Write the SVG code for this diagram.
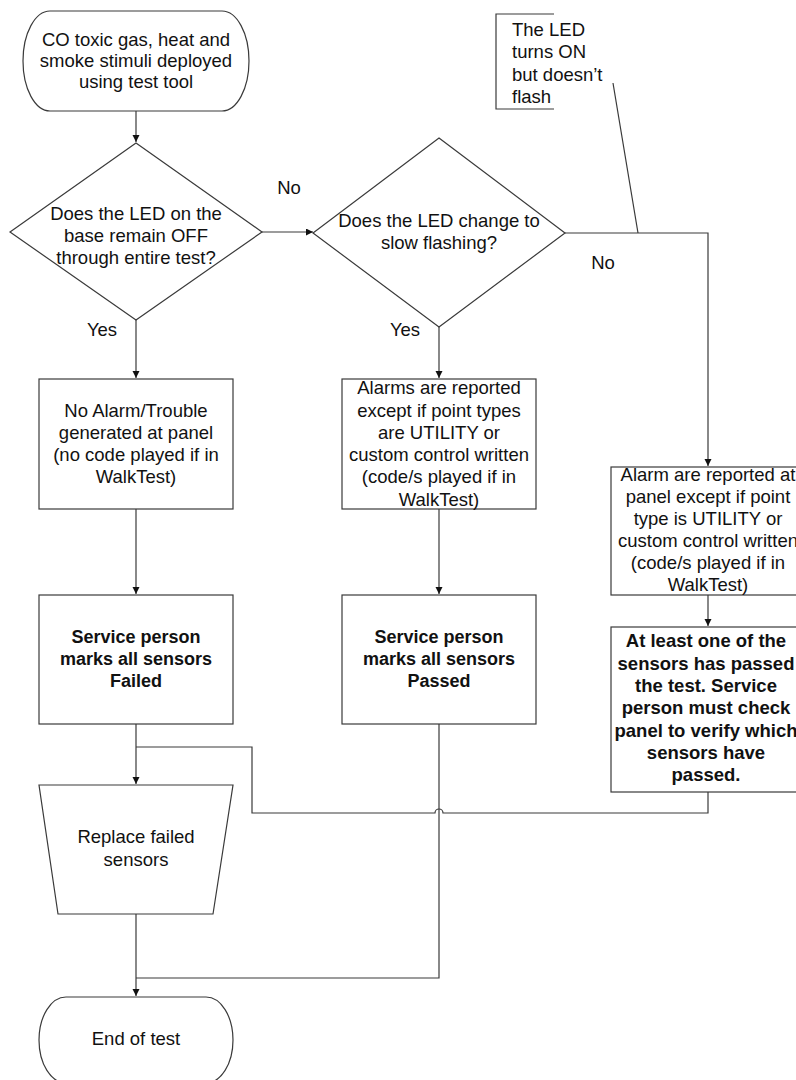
<svg xmlns="http://www.w3.org/2000/svg" width="796" height="1080" viewBox="0 0 796 1080">
<style>
.s{fill:#fff;stroke:#3a3a3a;stroke-width:1.2}
.t{font-family:"Liberation Sans",Arial,sans-serif;font-size:18.5px;fill:#111;text-anchor:middle}
.b{font-weight:bold;font-size:18px}
.l{text-anchor:start}
.c{fill:none;stroke:#3a3a3a;stroke-width:1.2}
</style>
<defs>
<marker id="ar" markerUnits="userSpaceOnUse" markerWidth="8" markerHeight="8" refX="7" refY="3.5" orient="auto">
<path d="M0,0 L7,3.5 L0,7 Z" fill="#111"/>
</marker>
</defs>
<rect width="796" height="1080" fill="#fff"/>
<g id="connectors">
<path class="c" d="M136,111 V142" marker-end="url(#ar)"/>
<path class="c" d="M262,232 H313" marker-end="url(#ar)"/>
<path class="c" d="M136,320 V378" marker-end="url(#ar)"/>
<path class="c" d="M439,327 V378" marker-end="url(#ar)"/>
<path class="c" d="M565,233 H708 V466" marker-end="url(#ar)"/>
<path class="c" d="M136,509 V594" marker-end="url(#ar)"/>
<path class="c" d="M439,509 V594" marker-end="url(#ar)"/>
<path class="c" d="M708,595 V626" marker-end="url(#ar)"/>
<path class="c" d="M136,724 V784" marker-end="url(#ar)"/>
<path class="c" d="M708,792 V813 H443 A4,4 0 0 0 435,813 H252 V747 H136"/>
<path class="c" d="M439,724 V978 H136"/>
<path class="c" d="M136,914 V996" marker-end="url(#ar)"/>
<path class="c" d="M613,83 L638,233"/>
</g>
<g id="start">
<path class="s" d="M50,11 H222 A27,50 0 0 1 222,111 H50 A27,50 0 0 1 50,11 Z"/>
<text class="t" x="136" y="46">CO toxic gas, heat and</text>
<text class="t" x="136" y="67">smoke stimuli deployed</text>
<text class="t" x="136" y="88">using test tool</text>
</g>
<g id="decision1">
<path class="s" d="M136,143 L262,232 L136,320 L10,232 Z"/>
<text class="t" x="136" y="220">Does the LED on the</text>
<text class="t" x="136" y="242">base remain OFF</text>
<text class="t" x="136" y="264">through entire test?</text>
</g>
<g id="decision2">
<path class="s" d="M439,138 L565,233 L439,327 L313,233 Z"/>
<text class="t" x="439" y="227">Does the LED change to</text>
<text class="t" x="439" y="249">slow flashing?</text>
</g>
<g id="labels">
<text class="t" x="289" y="194">No</text>
<text class="t" x="102" y="336">Yes</text>
<text class="t" x="405" y="336">Yes</text>
<text class="t" x="603" y="269">No</text>
</g>
<g id="callout">
<path class="c" d="M554,14 H496 V109 H554"/>
<text class="t l" x="512" y="36">The LED</text>
<text class="t l" x="512" y="58">turns ON</text>
<text class="t l" x="512" y="81">but doesn’t</text>
<text class="t l" x="512" y="103">flash</text>
</g>
<g id="noAlarm">
<rect class="s" x="39" y="379" width="194" height="130"/>
<text class="t" x="136" y="417">No Alarm/Trouble</text>
<text class="t" x="136" y="439">generated at panel</text>
<text class="t" x="136" y="461">(no code played if in</text>
<text class="t" x="136" y="483">WalkTest)</text>
</g>
<g id="alarmsReported">
<rect class="s" x="342" y="379" width="194" height="130"/>
<text class="t" x="439" y="394">Alarms are reported</text>
<text class="t" x="439" y="417">except if point types</text>
<text class="t" x="439" y="439">are UTILITY or</text>
<text class="t" x="439" y="461">custom control written</text>
<text class="t" x="439" y="483">(code/s played if in</text>
<text class="t" x="439" y="506">WalkTest)</text>
</g>
<g id="alarmReportedPanel">
<rect class="s" x="611" y="467" width="194" height="128"/>
<text class="t" x="708" y="481">Alarm are reported at</text>
<text class="t" x="708" y="503">panel except if point</text>
<text class="t" x="708" y="525">type is UTILITY or</text>
<text class="t" x="708" y="547">custom control written</text>
<text class="t" x="708" y="569">(code/s played if in</text>
<text class="t" x="708" y="591">WalkTest)</text>
</g>
<g id="markFailed">
<rect class="s" x="39" y="595" width="194" height="129"/>
<text class="t b" x="136" y="643">Service person</text>
<text class="t b" x="136" y="665">marks all sensors</text>
<text class="t b" x="136" y="687">Failed</text>
</g>
<g id="markPassed">
<rect class="s" x="342" y="595" width="194" height="129"/>
<text class="t b" x="439" y="643">Service person</text>
<text class="t b" x="439" y="665">marks all sensors</text>
<text class="t b" x="439" y="687">Passed</text>
</g>
<g id="atLeastOne">
<rect class="s" x="611" y="627" width="194" height="165"/>
<text class="t b" x="706" y="647" style="font-size:18.5px">At least one of the</text>
<text class="t b" x="706" y="670" style="font-size:18.5px">sensors has passed</text>
<text class="t b" x="706" y="692" style="font-size:18.5px">the test. Service</text>
<text class="t b" x="706" y="714" style="font-size:18.5px">person must check</text>
<text class="t b" x="706" y="737" style="font-size:18.5px">panel to verify which</text>
<text class="t b" x="706" y="759" style="font-size:18.5px">sensors have</text>
<text class="t b" x="706" y="781" style="font-size:18.5px">passed.</text>
</g>
<g id="replace">
<path class="s" d="M39,785 H233 L213,914 H58 Z"/>
<text class="t" x="136" y="843">Replace failed</text>
<text class="t" x="136" y="866">sensors</text>
</g>
<g id="end">
<path class="s" d="M66,997 H206 A27,43 0 0 1 206,1083 H66 A27,43 0 0 1 66,997 Z"/>
<text class="t" x="136" y="1045">End of test</text>
</g>
</svg>
